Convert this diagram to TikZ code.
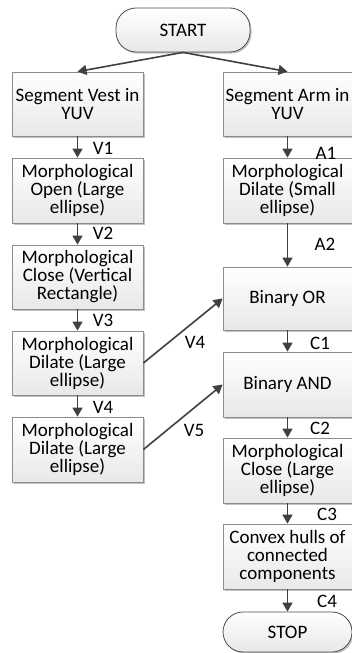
\documentclass[tikz,border=0pt]{standalone}
\usepackage{fontspec}
\setmainfont{Carlito}
\usetikzlibrary{shadows,arrows.meta}
\definecolor{boxline}{HTML}{8C8C8C}
\definecolor{arrowc}{HTML}{404040}
\begin{document}
\begin{tikzpicture}[x=1pt,y=-1pt,
  font=\fontsize{19}{18}\selectfont,
  procbox/.style={draw=boxline, line width=0.8pt, top color=white, bottom color=black!9,
     align=center, inner sep=0pt,
     drop shadow={shadow xshift=1.5pt, shadow yshift=-1.5pt, fill=black!35, opacity=0.7}},
  leftbox/.style={procbox, minimum width=131pt, minimum height=64pt},
  rightbox/.style={procbox, minimum width=129pt, minimum height=64pt},
  term/.style={procbox, rounded corners=20pt, draw=black!70},
  flow/.style={draw=arrowc, line width=1.6pt, -{Triangle[length=9pt,width=10pt]}},
  lbl/.style={inner sep=0pt, text=black}]
\useasboundingbox (0,0) rectangle (352,653);
% terminators
\node[term, minimum width=134pt, minimum height=44pt] (start) at (183,30) {START};
\node[term, minimum width=129pt, minimum height=40pt] (stop) at (287.5,632) {STOP};
% left column
\node[leftbox] (v0) at (77.5,104) {Segment Vest in\\YUV};
\node[leftbox, minimum height=65pt] (v1) at (77.5,190.5) {Morphological\\Open (Large\\ellipse)};
\node[leftbox] (v2) at (77.5,277) {Morphological\\Close (Vertical\\Rectangle)};
\node[leftbox] (v3) at (77.5,363) {Morphological\\Dilate (Large\\ellipse)};
\node[leftbox, minimum height=65pt] (v4) at (77.5,449.5) {Morphological\\Dilate (Large\\ellipse)};
% right column
\node[rightbox] (a0) at (287.5,104) {Segment Arm in\\YUV};
\node[rightbox, minimum height=65pt] (a1) at (287.5,190.5) {Morphological\\Dilate (Small\\ellipse)};
\node[rightbox, minimum height=63pt] (or) at (287.5,298.5) {Binary OR};
\node[rightbox, minimum height=65pt] (and) at (287.5,384.5) {Binary AND};
\node[rightbox, minimum height=65pt] (cl) at (287.5,470.5) {Morphological\\Close (Large\\ellipse)};
\node[rightbox, minimum height=65pt] (cx) at (287.5,556.5) {Convex hulls of\\connected\\components};
% connectors
\draw[flow] (start.south) -- (v0.north);
\draw[flow] (start.south) -- (a0.north);
\draw[flow] (v0) -- (v1);
\draw[flow] (v1) -- (v2);
\draw[flow] (v2) -- (v3);
\draw[flow] (v3) -- (v4);
\draw[flow] (a0) -- (a1);
\draw[flow] (a1) -- (or);
\draw[flow] (or) -- (and);
\draw[flow] (and) -- (cl);
\draw[flow] (cl) -- (cx);
\draw[flow] (cx) -- (stop);
\draw[flow] (v3.east) -- (or.west);
\draw[flow] (v4.east) -- (and.west);
% labels
\node[lbl] (lv1) at (103,148) {V1};
\node[lbl] (lv2) at (103,233) {V2};
\node[lbl] (lv3) at (103,320) {V3};
\node[lbl] (lv4) at (103,407) {V4};
\node[lbl] (la1) at (326,153) {A1};
\node[lbl] (la2) at (325,244) {A2};
\node[lbl] (lc1) at (320,343) {C1};
\node[lbl] (lc2) at (320,428) {C2};
\node[lbl] (lc3) at (327,514) {C3};
\node[lbl] (lc4) at (327,601) {C4};
\node[lbl] (ld4) at (195,342) {V4};
\node[lbl] (ld5) at (194,430) {V5};
\end{tikzpicture}
\end{document}
